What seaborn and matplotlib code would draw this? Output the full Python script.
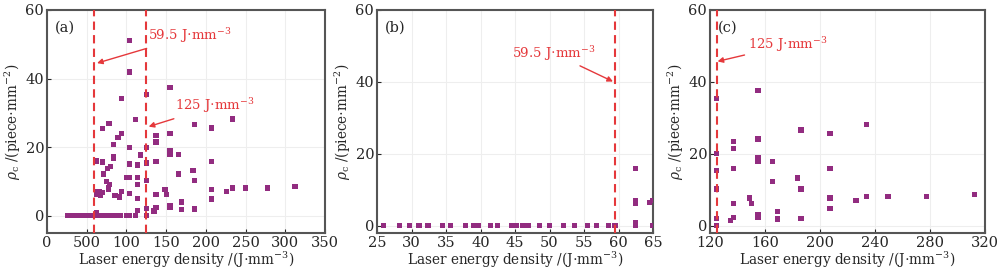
import matplotlib
matplotlib.use('Agg')
import matplotlib.pyplot as plt
import seaborn as sns
import pandas as pd
import numpy as np

# Laser energy density (J/mm^3) and pore density (piece/mm^2)
energy = [
    # low-energy points, all zero
    26.0, 28.3, 29.7, 31.1, 32.4, 34.5, 35.6, 37.8, 39.0, 39.3, 39.7, 41.5, 42.5,
    44.5, 45.2, 46.1, 46.5, 46.9, 48.6, 50.0, 52.0, 53.6, 55.5, 56.8, 58.5, 59.5,
    # 62.5 / 65
    62.5, 62.5, 62.5, 62.5, 62.5, 65.0, 65.0,
    # 65 - 125 range (only in panel a)
    67.0, 69.0, 71.0, 73.0, 75.0, 77.0, 79.0, 81.0, 83.0, 85.0, 89.7, 93.0, 99.7, 103.9, 111.0,
    103.9, 103.9, 93.5, 111.1, 78.0, 69.6, 93.5, 89.3, 83.4, 103.9, 117.4, 83.4, 83.4,
    69.6, 79.6, 76.6, 71.2, 103.9, 113.6, 99.7, 103.9, 113.6, 75.0, 78.4, 113.6,
    77.5, 77.5, 94.3, 64.5, 66.0, 69.6, 67.0, 85.5, 91.0, 103.9, 113.6, 113.6,
    # >= 125
    125.0, 125.0, 125.0, 125.0, 125.0, 125.0,
    134.8, 137.2, 137.2, 137.2, 137.2, 137.2, 148.6, 150.3,
    154.9, 154.9, 154.9, 154.9, 154.9, 154.9, 165.3, 165.3, 169.2, 169.2,
    183.8, 186.2, 186.2, 186.2, 207.3, 207.3, 207.3, 207.3,
    226.2, 233.7, 233.7, 249.5, 277.3, 312.2,
]
density = [
    0, 0, 0, 0, 0, 0, 0, 0, 0, 0, 0, 0, 0,
    0, 0, 0, 0, 0, 0, 0, 0, 0, 0, 0, 0, 0,
    16.0, 7.1, 6.2, 1.0, 0, 7.1, 0,
    0, 0, 0, 0, 0, 0, 0, 0, 0, 0, 0, 0, 0, 0, 0,
    51.0, 41.9, 34.2, 28.1, 27.0, 25.5, 23.9, 22.9, 20.8, 19.9, 17.7, 17.2, 16.6,
    15.7, 14.3, 13.7, 12.2, 15.1, 14.8, 11.2, 11.2, 11.2, 10.0, 9.2, 9.1,
    8.2, 7.6, 7.1, 6.5, 7.0, 6.8, 5.8, 6.0, 5.5, 6.6, 5.0, 1.5,
    35.4, 20.0, 15.4, 10.2, 2.1, 0,
    1.4, 23.5, 21.5, 15.9, 6.1, 2.4, 7.7, 6.1,
    37.5, 24.1, 19.0, 17.8, 3.1, 2.4, 17.9, 12.2, 4.0, 1.9,
    13.3, 26.6, 10.2, 2.0, 25.6, 15.9, 7.7, 4.9,
    7.1, 28.2, 8.1, 8.1, 8.1, 8.6,
]

panel_labels = ['(a)', '(b)', '(c)']
xlims = [(0, 350), (25, 65), (120, 320)]
ylims = [(-5, 60), (-2, 60), (-2, 60)]
xticks = [np.arange(0, 351, 50), np.arange(25, 66, 5), np.arange(120, 321, 40)]
xticklabels_a = ['0', '500', '100', '150', '200', '250', '300', '350']
yticks = [0, 20, 40, 60]

df = pd.DataFrame({'energy': energy, 'density': density})

sns.set_style('ticks')
plt.rcParams['font.family'] = ['DejaVu Serif']
plt.rcParams['mathtext.fontset'] = 'dejavuserif'
plt.rcParams['font.size'] = 10.5

point_color = '#922C80'
red = '#E5383B'

fig = plt.figure(figsize=(10, 2.69), dpi=100)
positions = [[0.047, 0.134, 0.278, 0.829],
             [0.377, 0.134, 0.276, 0.829],
             [0.710, 0.134, 0.275, 0.829]]
axes = [fig.add_axes(p) for p in positions]

for i, ax in enumerate(axes):
    lo, hi = xlims[i]
    sub = df[(df['energy'] >= lo - 1) & (df['energy'] <= hi + 1)]
    ax.grid(True, color='#eeeeee', linewidth=0.8, zorder=0)
    sns.scatterplot(data=sub, x='energy', y='density', marker='s', s=14,
                    color=point_color, edgecolor='none', linewidth=0, ax=ax, zorder=3)
    ax.set_xlim(xlims[i])
    ax.set_ylim(ylims[i])
    ax.set_xticks(xticks[i])
    if i == 0:
        ax.set_xticklabels(xticklabels_a)
    ax.set_yticks(yticks)
    ax.tick_params(direction='in', length=3, width=0.8, labelsize=10.5, pad=2)
    for sp in ax.spines.values():
        sp.set_color('#555555')
        sp.set_linewidth(1.5)
    ax.set_xlabel('Laser energy density /(J$\\cdot$mm$^{-3}$)', fontsize=9.8, labelpad=0)
    ax.set_ylabel('$\\rho_{\\rm c}$ /(piece$\\cdot$mm$^{-2}$)', fontsize=9.8, labelpad=2)
    ax.text(0.03, 0.95, panel_labels[i], transform=ax.transAxes, ha='left', va='top',
            fontsize=10.5, zorder=5)

# Threshold lines and annotations
dash = dict(color=red, linestyle=(0, (4, 2.5)), linewidth=1.5, zorder=4)
arrow = dict(arrowstyle='-|>', color=red, lw=1.0, mutation_scale=8, shrinkA=0, shrinkB=0)

ax = axes[0]
ax.axvline(59.5, **dash)
ax.axvline(125, **dash)
ax.annotate('59.5 J$\\cdot$mm$^{-3}$', xy=(63, 44.5), xytext=(127, 52.5),
            color=red, fontsize=9.5, va='center', ha='left', arrowprops=arrow, zorder=6)
ax.annotate('125 J$\\cdot$mm$^{-3}$', xy=(128, 26), xytext=(161, 32),
            color=red, fontsize=9.5, va='center', ha='left', arrowprops=arrow, zorder=6)

ax = axes[1]
ax.axvline(59.5, **dash)
ax.annotate('59.5 J$\\cdot$mm$^{-3}$', xy=(59.2, 40.1), xytext=(44.5, 48),
            color=red, fontsize=9.5, va='center', ha='left', arrowprops=arrow, zorder=6)

ax = axes[2]
ax.axvline(125, **dash)
ax.annotate('125 J$\\cdot$mm$^{-3}$', xy=(125.5, 45.7), xytext=(147.5, 50.3),
            color=red, fontsize=9.5, va='center', ha='left', arrowprops=arrow, zorder=6)

fig.savefig('out.png', dpi=100)
